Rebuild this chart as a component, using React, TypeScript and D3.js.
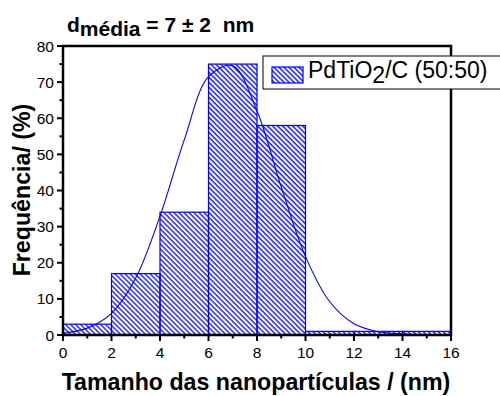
import React from "react";
import * as d3 from "d3";

const binStarts = [0, 2, 4, 6, 8, 10, 12, 14];
const binWidth = 2;
const binValues = [3, 17, 34, 75, 58, 1, 1, 1];

const curveX = [0, 1, 2, 3, 4, 5, 6, 7, 8, 9, 10, 11, 12, 13, 14, 15, 16];
const curveY = [0.5, 1.9, 6.0, 15.8, 32.9, 54, 71.5, 74.5, 62, 41, 21.7, 9.2, 3.1, 0.9, 0.3, 0.1, 0.05];

const xTicks = [0, 2, 4, 6, 8, 10, 12, 14, 16];
const yTicks = [0, 10, 20, 30, 40, 50, 60, 70, 80];
const xMinor = [1, 3, 5, 7, 9, 11, 13, 15];
const yMinor = [5, 15, 25, 35, 45, 55, 65, 75];

const legendLabel = ["PdTiO", "2", "/C (50:50)"];

export default function App() {
  const W = 500, H = 396;
  const L = 63, R = 451, T = 46, B = 335;
  const x = d3.scaleLinear().domain([0, 16]).range([L, R]);
  const y = d3.scaleLinear().domain([0, 80]).range([B, T]);
  const blue = "#0000ff";
  const line = d3
    .line<number>()
    .x((_, i) => x(curveX[i]))
    .y((d) => y(d))
    .curve(d3.curveCatmullRom.alpha(0.5));
  const font = "'Liberation Sans', Arial, sans-serif";
  return (
    <svg width={W} height={H} style={{ position: "absolute", left: 0, top: 0, background: "#fff" }} fontFamily={font}>
      <defs>
        <pattern id="hatch" patternUnits="userSpaceOnUse" width={3.54} height={10} patternTransform="rotate(-45)">
          <line x1={1} y1={-1} x2={1} y2={11} stroke={blue} strokeWidth={1.3} />
        </pattern>
      </defs>
      <rect x={0} y={0} width={W} height={H} fill="#fff" />
      {binStarts.map((s, i) => (
        <rect
          key={i}
          x={x(s)}
          y={y(binValues[i])}
          width={x(s + binWidth) - x(s)}
          height={y(0) - y(binValues[i])}
          fill="url(#hatch)"
          stroke={blue}
          strokeWidth={1.2}
        />
      ))}
      <path d={line(curveY) || ""} fill="none" stroke={blue} strokeWidth={1.1} />
      {/* frame */}
      <rect x={L} y={T} width={R - L} height={B - T} fill="none" stroke="#000" strokeWidth={2.5} />
      {/* ticks */}
      {xTicks.map((t) => (
        <g key={"x" + t}>
          <line x1={x(t)} x2={x(t)} y1={B} y2={B + 6} stroke="#000" strokeWidth={2} />
          <text x={x(t)} y={358} textAnchor="middle" fontSize={15.5}>{t}</text>
        </g>
      ))}
      {xMinor.map((t) => (
        <line key={"xm" + t} x1={x(t)} x2={x(t)} y1={B} y2={B + 3.5} stroke="#000" strokeWidth={2} />
      ))}
      {yTicks.map((t) => (
        <g key={"y" + t}>
          <line x1={L - 6} x2={L} y1={y(t)} y2={y(t)} stroke="#000" strokeWidth={2} />
          <text x={L - 9} y={y(t) + 5.5} textAnchor="end" fontSize={15.5}>{t}</text>
        </g>
      ))}
      {yMinor.map((t) => (
        <line key={"ym" + t} x1={L - 3.5} x2={L} y1={y(t)} y2={y(t)} stroke="#000" strokeWidth={2} />
      ))}
      {/* legend */}
      <rect x={263} y={56} width={260} height={33} fill="#fff" stroke="#000" strokeWidth={1} />
      <rect x={272} y={67} width={31} height={16} fill="url(#hatch)" stroke={blue} strokeWidth={1.2} />
      <text x={308} y={78} fontSize={23}>
        {legendLabel[0]}
        <tspan dy={5}>{legendLabel[1]}</tspan>
        <tspan dy={-5}>{legendLabel[2]}</tspan>
      </text>
      {/* title */}
      <text x={67} y={32} fontSize={21} fontWeight="bold" style={{ whiteSpace: "pre" }}>
        d<tspan dy={4}>média</tspan>
        <tspan dy={-4}>{" = 7 \u00b1 2  nm"}</tspan>
      </text>
      {/* axis titles */}
      <text x={256} y={390} textAnchor="middle" fontSize={23.2} fontWeight="bold">
        Tamanho das nanopartículas / (nm)
      </text>
      <text transform="translate(30,190) rotate(-90)" textAnchor="middle" fontSize={23.2} fontWeight="bold">
        Frequência/ (%)
      </text>
    </svg>
  );
}
